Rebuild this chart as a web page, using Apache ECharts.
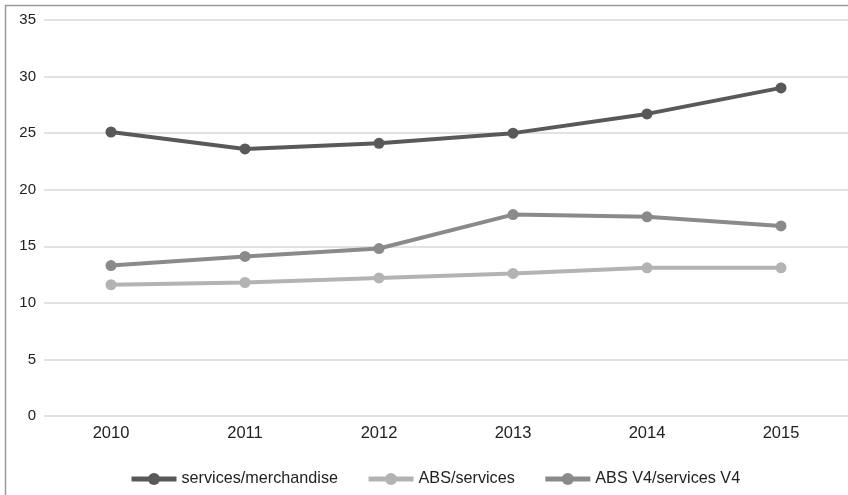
<!DOCTYPE html>
<html>
<head>
<meta charset="utf-8">
<script src="https://cdn.jsdelivr.net/npm/echarts@6/dist/echarts.min.js"></script>
<style>
html,body{margin:0;padding:0;background:#fff;}
#c{width:848px;height:495px;}
</style>
</head>
<body>
<div id="c"></div>
<script>
var categories = ['2010','2011','2012','2013','2014','2015'];
var servicesMerchandise = [25.1, 23.6, 24.1, 25.0, 26.7, 29.0];
var absServices = [11.6, 11.8, 12.2, 12.6, 13.1, 13.1];
var absV4ServicesV4 = [13.3, 14.1, 14.8, 17.8, 17.6, 16.8];
var seriesNames = ['services/merchandise', 'ABS/services', 'ABS V4/services V4'];
var yTicks = {min: 0, max: 35, interval: 5};

var FONT = "'Liberation Sans', Arial, sans-serif";
var colors = ['#595959', '#b3b3b3', '#8a8a8a'];

function mk(name, data, color) {
  return {
    name: name, type: 'line', data: data,
    symbol: 'circle', symbolSize: 11,
    lineStyle: {width: 4, color: color},
    itemStyle: {color: color},
    emphasis: {disabled: true}
  };
}

var chart = echarts.init(document.getElementById('c'));
chart.setOption({
  animation: false,
  backgroundColor: '#fff',
  color: colors,
  graphic: [{
    type: 'rect', z: -1,
    shape: {x: 5.5, y: 5.5, width: 900, height: 600},
    style: {fill: 'none', stroke: '#9a9a9a', lineWidth: 1.5}
  }],
  grid: {left: 44, right: 0, top: 20, bottom: 79},
  legend: {
    top: 466, left: 124,
    itemWidth: 45, itemHeight: 15, itemGap: 28,
    lineStyle: {width: 5},
    textStyle: {fontFamily: FONT, fontSize: 16.2, color: '#222'},
    data: seriesNames
  },
  xAxis: {
    type: 'category', data: categories, boundaryGap: true,
    axisLine: {show: false}, axisTick: {show: false},
    axisLabel: {fontFamily: FONT, fontSize: 16.5, color: '#222', margin: 9}
  },
  yAxis: {
    type: 'value', min: yTicks.min, max: yTicks.max, interval: yTicks.interval,
    axisLine: {show: false}, axisTick: {show: false},
    axisLabel: {fontFamily: FONT, fontSize: 15, color: '#222', margin: 8},
    splitLine: {lineStyle: {color: '#d9d9d9', width: 1.5}}
  },
  series: [
    mk(seriesNames[0], servicesMerchandise, colors[0]),
    mk(seriesNames[1], absServices, colors[1]),
    mk(seriesNames[2], absV4ServicesV4, colors[2])
  ]
});
</script>
</body>
</html>
